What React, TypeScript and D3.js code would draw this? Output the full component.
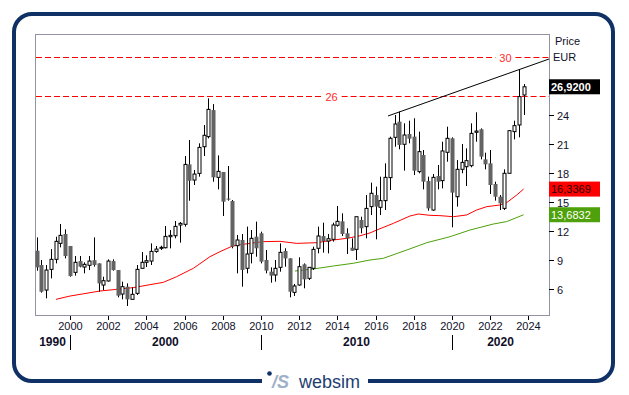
import React from 'react'
import * as d3 from 'd3'

// quarterly candles, first one is Q2 1998
const firstQuarter = 1998.25

const opens = [
  9.96, 8.48, 5.89, 8.03, 9.07, 10.72, 11.69, 10.45, 7.72, 8.89, 8.27, 8.45, 8.98, 8.65, 6.41, 6.83, 8.89, 7.96, 5.48, 6.24,
  4.93, 5.55, 8.14, 8.76, 8.89, 9.89, 10.24, 10.27, 11.41, 11.51, 12.62, 12.69, 18.89, 17.27, 17.96, 20.72, 21.76, 24.51, 17.55, 18.1,
  15.35, 15.1, 10.48, 11.07, 8.14, 9.69, 11.41, 11.76, 9.0, 7.79, 7.45, 8.24, 9.93, 9.17, 5.65, 6.41, 8.55, 7.1, 8.14, 10.21,
  11.48, 10.96, 11.14, 12.59, 13.0, 11.76, 10.27, 10.1, 13.14, 12.45, 14.52, 15.72, 14.45, 15.14, 17.52, 21.69, 23.31, 20.97, 22.03, 21.76,
  18.14, 19.86, 17.17, 14.17, 17.69, 17.21, 20.14, 21.59, 15.55, 18.38, 18.65, 18.76, 22.21, 22.52, 19.41, 19.0, 16.86, 15.55, 14.34, 17.97,
  22.28, 22.97, 26.07,
]
const highs = [
  11.34, 9.0, 8.48, 10.13, 11.41, 12.72, 12.17, 10.45, 9.41, 9.41, 8.76, 9.41, 11.34, 8.65, 7.27, 9.07, 9.07, 7.96, 6.76, 6.58,
  6.17, 8.48, 9.82, 9.48, 10.72, 10.45, 10.48, 12.52, 12.1, 13.03, 12.93, 19.76, 21.41, 18.31, 21.07, 22.96, 25.72, 25.13, 19.82, 18.1,
  18.72, 15.21, 11.59, 11.69, 12.45, 12.1, 12.97, 11.93, 10.03, 8.24, 9.0, 10.72, 10.21, 9.17, 6.52, 9.28, 8.65, 8.24, 10.38, 12.45,
  12.86, 11.69, 12.86, 14.59, 13.83, 12.28, 11.24, 13.48, 13.48, 15.72, 17.0, 16.59, 17.62, 19.0, 21.76, 24.0, 24.34, 23.14, 23.41, 23.66,
  22.28, 20.38, 17.62, 17.9, 18.83, 21.24, 22.79, 21.69, 19.34, 21.0, 20.55, 23.14, 24.28, 22.62, 20.1, 20.38, 17.1, 15.72, 18.38, 22.45,
  23.41, 28.73, 27.2,
]
const lows = [
  7.89, 5.62, 5.03, 7.1, 8.65, 10.31, 9.17, 7.27, 7.38, 8.24, 7.62, 7.96, 8.31, 5.72, 5.89, 6.76, 7.89, 5.14, 4.93, 4.24,
  4.93, 5.38, 8.1, 8.27, 8.48, 9.75, 10.03, 10.2, 10.2, 11.24, 10.79, 12.45, 15.13, 16.76, 17.62, 19.76, 21.58, 17.1, 16.31, 13.55,
  15.14, 10.21, 7.62, 6.24, 7.62, 8.65, 9.34, 8.65, 7.62, 6.65, 6.76, 7.79, 8.31, 5.14, 5.28, 6.34, 6.07, 6.93, 7.97, 9.69,
  9.76, 9.69, 10.9, 12.45, 11.48, 9.62, 9.96, 9.0, 11.76, 11.24, 13.65, 11.14, 13.65, 14.17, 16.24, 20.72, 20.45, 18.24, 21.07, 17.79,
  17.97, 16.31, 14.1, 14.1, 16.31, 16.41, 19.17, 12.38, 14.52, 17.97, 16.66, 18.59, 21.24, 19.41, 18.38, 15.83, 15.14, 14.17, 14.17, 17.97,
  21.48, 21.69, 24.0,
]
const closes = [
  8.24, 5.72, 7.96, 9.07, 10.93, 11.55, 9.41, 7.34, 8.76, 8.31, 8.55, 8.89, 8.48, 6.58, 6.86, 8.89, 7.96, 5.31, 6.24, 4.93,
  5.45, 8.03, 8.76, 8.93, 9.89, 10.13, 10.31, 11.44, 11.55, 12.48, 12.79, 18.89, 17.2, 17.89, 20.65, 21.9, 24.58, 17.55, 18.17, 15.03,
  15.31, 10.38, 11.07, 7.97, 9.62, 11.24, 10.21, 8.83, 7.9, 7.38, 8.14, 9.79, 9.17, 5.72, 6.31, 8.31, 7.0, 8.24, 10.1, 11.48,
  10.96, 11.2, 12.62, 13.0, 11.69, 11.24, 9.96, 13.48, 12.28, 14.34, 15.9, 14.52, 15.14, 17.55, 21.59, 23.07, 20.9, 21.93, 21.55, 18.24,
  20.21, 17.1, 14.34, 17.55, 17.1, 20.28, 21.59, 15.97, 18.38, 19.1, 19.28, 22.1, 22.34, 19.69, 18.9, 16.76, 15.55, 14.86, 17.97, 22.38,
  22.9, 25.9, 26.92,
]

// moving averages
const maRedDates = [1999.27, 2000.0, 2001.57, 2002.62, 2003.31, 2004.89, 2005.58, 2006.46, 2007.33, 2007.85, 2008.55, 2009.42, 2010.12, 2011.0, 2011.87, 2012.92, 2013.79, 2014.49, 2015.18, 2015.71, 2016.06, 2016.93, 2017.8, 2018.24, 2018.85, 2019.37, 2020.07, 2020.77, 2021.29, 2021.82, 2022.51, 2022.86, 2023.39, 2023.75]
const maRedValues = [4.93, 5.27, 5.79, 6.0, 6.14, 6.69, 7.27, 8.14, 9.34, 9.86, 10.48, 10.72, 10.9, 10.93, 10.72, 10.79, 11.07, 11.24, 11.5, 11.8, 12.1, 12.79, 13.55, 13.76, 13.62, 13.59, 13.48, 13.66, 14.17, 14.52, 14.69, 14.93, 15.72, 16.34]
const maGreenDates = [2011.78, 2012.74, 2013.79, 2014.83, 2015.71, 2016.4, 2017.63, 2018.68, 2019.9, 2020.94, 2022.16, 2022.86, 2023.75]
const maGreenValues = [7.86, 8.07, 8.38, 8.66, 9.0, 9.17, 10.03, 10.79, 11.41, 12.1, 12.72, 12.97, 13.68]

const trendDates = [2016.65, 2025.08]
const trendValues = [23.9, 29.79]

const levels = [30, 26]
const levelLabelAt = [2022.8, 2013.7]

const priceTicks = [6, 9, 12, 15, 18, 21, 24]
const yearTicks = [2000, 2002, 2004, 2006, 2008, 2010, 2012, 2014, 2016, 2018, 2020, 2022, 2024]
const decades = [1990, 2000, 2010, 2020]

const lastPrice = 26.92
const maRedLast = 16.3369
const maGreenLast = 13.6832

const fmt = (v: number) => v.toFixed(4).replace('.', ',')

const App = () => {
  const left = 35, right = 549, top = 34, bottom = 315
  const font = 'Liberation Sans, Arial, sans-serif'

  const xScale = d3.scaleLinear().domain([1998.17, 2025.08]).range([left, right])
  const yScale = d3.scaleLinear().domain([3.31, 32.38]).range([bottom, top])

  const dates = opens.map((_, i) => firstQuarter + i / 4)

  const line = d3.line<[number, number]>()
    .x(d => xScale(d[0]))
    .y(d => yScale(d[1]))

  const redPts = maRedDates.map((d, i) => [d, maRedValues[i]] as [number, number])
  const greenPts = maGreenDates.map((d, i) => [d, maGreenValues[i]] as [number, number])
  const trendPts = trendDates.map((d, i) => [d, trendValues[i]] as [number, number])

  const navy = '#0f3166'

  // decade spans for the bottom row
  const decadeSpans = decades.map(dec => {
    const a = Math.max(xScale(dec), left)
    const b = Math.min(xScale(dec + 10), right)
    return { dec, mid: (a + b) / 2, sep: xScale(dec) > left ? xScale(dec) : null }
  })

  const boxes = [
    { v: lastPrice, fill: '#000', text: '#fff', weight: 'bold' },
    { v: maRedLast, fill: '#ff0000', text: '#200', weight: 'normal' },
    { v: maGreenLast, fill: '#4ea10a', text: '#fff', weight: 'normal' },
  ]

  return (
    <svg width={629} height={395} style={{ position: 'absolute', left: 0, top: 0, background: '#fff' }}
      fontFamily={font}>
      {/* outer frame */}
      <rect x={14} y={14} width={599} height={367} rx={18} fill="#fff" stroke={navy} strokeWidth={4} />
      <rect x={262} y={376} width={106} height={10} fill="#fff" />
      <circle cx={269.5} cy={373.5} r={2.3} fill={navy} />
      <text x={272} y={388} fontSize={18} fontStyle="italic" fontWeight="bold" fill="#9fb0c8">/S</text>
      <text x={299} y={388} fontSize={18} fill="#1c3d70">websim</text>

      {/* plot frame */}
      <rect x={left + 0.5} y={top + 0.5} width={right - left} height={bottom - top} fill="none" stroke="#9292a2" />

      {/* level lines */}
      {levels.map((lv, i) => {
        const y = Math.round(yScale(lv)) + 0.5
        const lx = xScale(levelLabelAt[i])
        return (
          <g key={lv}>
            <line x1={left + 1} x2={lx - 10} y1={y} y2={y} stroke="#ff0000" strokeDasharray="6,3" />
            <line x1={lx + 10} x2={right} y1={y} y2={y} stroke="#ff0000" strokeDasharray="6,3" />
            <text x={lx} y={y + 4} fontSize={11} fill="#ff2a2a" textAnchor="middle">{lv}</text>
          </g>
        )
      })}

      {/* moving averages */}
      <path d={line(redPts) || ''} fill="none" stroke="#ff0000" strokeWidth={1} />
      <path d={line(greenPts) || ''} fill="none" stroke="#4ea10a" strokeWidth={1} />

      {/* trend line */}
      <path d={line(trendPts) || ''} fill="none" stroke="#000" strokeWidth={1} />

      {/* candles */}
      {dates.map((d, i) => {
        const cx = Math.round(xScale(d)) + 0.5
        const o = opens[i], c = closes[i]
        const up = c >= o
        const yTop = yScale(Math.max(o, c))
        const yBot = yScale(Math.min(o, c))
        const h = Math.max(1, yBot - yTop)
        return (
          <g key={i}>
            <line x1={cx} x2={cx} y1={yScale(highs[i])} y2={yScale(lows[i])} stroke="#000" />
            {up
              ? <rect x={cx - 1.5} y={yTop} width={3} height={h} fill="#fff" stroke="#000" />
              : <rect x={cx - 2} y={yTop} width={4} height={h} fill="#636363" />}
          </g>
        )
      })}

      {/* right axis */}
      {priceTicks.map(t => {
        const y = Math.round(yScale(t)) + 0.5
        return (
          <g key={t}>
            <line x1={right} x2={right + 5} y1={y} y2={y} stroke="#000" />
            <text x={right + 8} y={y + 4} fontSize={11} fill="#10102a">{t}</text>
          </g>
        )
      })}
      <text x={555} y={45} fontSize={11} fill="#10102a">Price</text>
      <text x={553} y={61} fontSize={11} fill="#10102a">EUR</text>

      {boxes.map(b => {
        const y = yScale(b.v)
        return (
          <g key={b.v}>
            <rect x={right} y={y - 7.5} width={51} height={15} fill={b.fill} />
            <text x={right + 2} y={y + 4} fontSize={11} fontWeight={b.weight} fill={b.text}>{fmt(b.v)}</text>
          </g>
        )
      })}

      {/* bottom axis */}
      {yearTicks.map(t => {
        const x = Math.round(xScale(t)) + 0.5
        return (
          <g key={t}>
            <line x1={x} x2={x} y1={bottom + 1} y2={bottom + 5} stroke="#000" />
            <text x={x} y={330} fontSize={11} textAnchor="middle" fill="#10102a">{t}</text>
          </g>
        )
      })}
      {decadeSpans.map(s => (
        <g key={s.dec}>
          <text x={s.mid} y={346} fontSize={12} fontWeight="bold" textAnchor="middle" fill="#10102a">{s.dec}</text>
          {s.sep !== null &&
            <line x1={Math.round(s.sep) + 0.5} x2={Math.round(s.sep) + 0.5} y1={335} y2={350} stroke="#000" />}
        </g>
      ))}
    </svg>
  )
}

export default App
